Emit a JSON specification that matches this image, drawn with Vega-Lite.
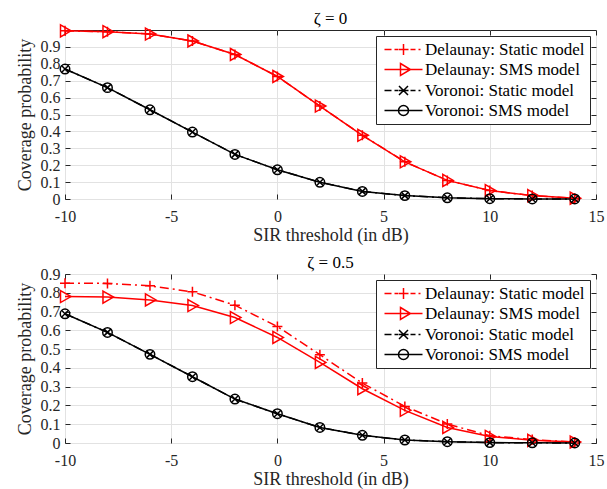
{
  "$schema": "https://vega.github.io/schema/vega-lite/v6.json",
  "padding": {"left": 15, "top": 9, "right": 5, "bottom": 0},
  "config": {
    "font": "Liberation Serif",
    "view": {"stroke": "#262626", "strokeWidth": 1},
    "axis": {
      "labelFont": "Liberation Serif",
      "labelFontSize": 16,
      "labelColor": "#262626",
      "labelOverlap": false,
      "titleFont": "Liberation Serif",
      "titleFontSize": 18,
      "titleFontWeight": "normal",
      "titleColor": "#262626",
      "titlePadding": 2,
      "gridColor": "#e2e2e2",
      "gridWidth": 1,
      "domain": false,
      "tickColor": "#262626",
      "tickSize": -5,
      "labelPadding": 10,
      "labelFlush": false
    },
    "axisX": {"labelPadding": 14},
    "axisY": {"titlePadding": 6},
    "title": {"font": "Liberation Serif", "fontSize": 17, "fontWeight": "normal", "color": "#000000", "offset": -6},
    "legend": {
      "orient": "top-right",
      "offset": 6,
      "padding": 5,
      "fillColor": "#ffffff",
      "strokeColor": "#262626",
      "labelFont": "Liberation Serif",
      "labelFontSize": 17,
      "labelColor": "#000000",
      "labelOffset": 27,
      "symbolSize": 100,
      "symbolStrokeWidth": 1.5,
      "symbolOpacity": 1,
      "rowPadding": 2
    },
    "concat": {"spacing": 8}
  },
  "datasets": {
    "curves": [
      {"panel": "z0", "series": "Delaunay: Static model", "x": -10, "y": 0.995},
      {"panel": "z0", "series": "Delaunay: Static model", "x": -8, "y": 0.99},
      {"panel": "z0", "series": "Delaunay: Static model", "x": -6, "y": 0.976},
      {"panel": "z0", "series": "Delaunay: Static model", "x": -4, "y": 0.935},
      {"panel": "z0", "series": "Delaunay: Static model", "x": -2, "y": 0.855},
      {"panel": "z0", "series": "Delaunay: Static model", "x": 0, "y": 0.725},
      {"panel": "z0", "series": "Delaunay: Static model", "x": 2, "y": 0.55},
      {"panel": "z0", "series": "Delaunay: Static model", "x": 4, "y": 0.377},
      {"panel": "z0", "series": "Delaunay: Static model", "x": 6, "y": 0.22},
      {"panel": "z0", "series": "Delaunay: Static model", "x": 8, "y": 0.11},
      {"panel": "z0", "series": "Delaunay: Static model", "x": 10, "y": 0.05},
      {"panel": "z0", "series": "Delaunay: Static model", "x": 12, "y": 0.02},
      {"panel": "z0", "series": "Delaunay: Static model", "x": 14, "y": 0.005},
      {"panel": "z0", "series": "Delaunay: SMS model", "x": -10, "y": 0.995},
      {"panel": "z0", "series": "Delaunay: SMS model", "x": -8, "y": 0.99},
      {"panel": "z0", "series": "Delaunay: SMS model", "x": -6, "y": 0.976},
      {"panel": "z0", "series": "Delaunay: SMS model", "x": -4, "y": 0.935},
      {"panel": "z0", "series": "Delaunay: SMS model", "x": -2, "y": 0.855},
      {"panel": "z0", "series": "Delaunay: SMS model", "x": 0, "y": 0.725},
      {"panel": "z0", "series": "Delaunay: SMS model", "x": 2, "y": 0.55},
      {"panel": "z0", "series": "Delaunay: SMS model", "x": 4, "y": 0.377},
      {"panel": "z0", "series": "Delaunay: SMS model", "x": 6, "y": 0.22},
      {"panel": "z0", "series": "Delaunay: SMS model", "x": 8, "y": 0.11},
      {"panel": "z0", "series": "Delaunay: SMS model", "x": 10, "y": 0.05},
      {"panel": "z0", "series": "Delaunay: SMS model", "x": 12, "y": 0.02},
      {"panel": "z0", "series": "Delaunay: SMS model", "x": 14, "y": 0.005},
      {"panel": "z0", "series": "Voronoi: Static model", "x": -10, "y": 0.769},
      {"panel": "z0", "series": "Voronoi: Static model", "x": -8, "y": 0.659},
      {"panel": "z0", "series": "Voronoi: Static model", "x": -6, "y": 0.528},
      {"panel": "z0", "series": "Voronoi: Static model", "x": -4, "y": 0.396},
      {"panel": "z0", "series": "Voronoi: Static model", "x": -2, "y": 0.264},
      {"panel": "z0", "series": "Voronoi: Static model", "x": 0, "y": 0.173},
      {"panel": "z0", "series": "Voronoi: Static model", "x": 2, "y": 0.099},
      {"panel": "z0", "series": "Voronoi: Static model", "x": 4, "y": 0.045},
      {"panel": "z0", "series": "Voronoi: Static model", "x": 6, "y": 0.02},
      {"panel": "z0", "series": "Voronoi: Static model", "x": 8, "y": 0.007},
      {"panel": "z0", "series": "Voronoi: Static model", "x": 10, "y": 0.002},
      {"panel": "z0", "series": "Voronoi: Static model", "x": 12, "y": 0.0005},
      {"panel": "z0", "series": "Voronoi: Static model", "x": 14, "y": 0.0001},
      {"panel": "z0", "series": "Voronoi: SMS model", "x": -10, "y": 0.769},
      {"panel": "z0", "series": "Voronoi: SMS model", "x": -8, "y": 0.659},
      {"panel": "z0", "series": "Voronoi: SMS model", "x": -6, "y": 0.528},
      {"panel": "z0", "series": "Voronoi: SMS model", "x": -4, "y": 0.396},
      {"panel": "z0", "series": "Voronoi: SMS model", "x": -2, "y": 0.264},
      {"panel": "z0", "series": "Voronoi: SMS model", "x": 0, "y": 0.173},
      {"panel": "z0", "series": "Voronoi: SMS model", "x": 2, "y": 0.099},
      {"panel": "z0", "series": "Voronoi: SMS model", "x": 4, "y": 0.045},
      {"panel": "z0", "series": "Voronoi: SMS model", "x": 6, "y": 0.02},
      {"panel": "z0", "series": "Voronoi: SMS model", "x": 8, "y": 0.007},
      {"panel": "z0", "series": "Voronoi: SMS model", "x": 10, "y": 0.002},
      {"panel": "z0", "series": "Voronoi: SMS model", "x": 12, "y": 0.0005},
      {"panel": "z0", "series": "Voronoi: SMS model", "x": 14, "y": 0.0001},
      {"panel": "z05", "series": "Delaunay: Static model", "x": -10, "y": 0.851},
      {"panel": "z05", "series": "Delaunay: Static model", "x": -8, "y": 0.85},
      {"panel": "z05", "series": "Delaunay: Static model", "x": -6, "y": 0.837},
      {"panel": "z05", "series": "Delaunay: Static model", "x": -4, "y": 0.805},
      {"panel": "z05", "series": "Delaunay: Static model", "x": -2, "y": 0.734},
      {"panel": "z05", "series": "Delaunay: Static model", "x": 0, "y": 0.62},
      {"panel": "z05", "series": "Delaunay: Static model", "x": 2, "y": 0.47},
      {"panel": "z05", "series": "Delaunay: Static model", "x": 4, "y": 0.319},
      {"panel": "z05", "series": "Delaunay: Static model", "x": 6, "y": 0.195},
      {"panel": "z05", "series": "Delaunay: Static model", "x": 8, "y": 0.101},
      {"panel": "z05", "series": "Delaunay: Static model", "x": 10, "y": 0.039},
      {"panel": "z05", "series": "Delaunay: Static model", "x": 12, "y": 0.018},
      {"panel": "z05", "series": "Delaunay: Static model", "x": 14, "y": 0.005},
      {"panel": "z05", "series": "Delaunay: SMS model", "x": -10, "y": 0.78},
      {"panel": "z05", "series": "Delaunay: SMS model", "x": -8, "y": 0.777},
      {"panel": "z05", "series": "Delaunay: SMS model", "x": -6, "y": 0.762},
      {"panel": "z05", "series": "Delaunay: SMS model", "x": -4, "y": 0.732},
      {"panel": "z05", "series": "Delaunay: SMS model", "x": -2, "y": 0.668},
      {"panel": "z05", "series": "Delaunay: SMS model", "x": 0, "y": 0.562},
      {"panel": "z05", "series": "Delaunay: SMS model", "x": 2, "y": 0.429},
      {"panel": "z05", "series": "Delaunay: SMS model", "x": 4, "y": 0.289},
      {"panel": "z05", "series": "Delaunay: SMS model", "x": 6, "y": 0.174},
      {"panel": "z05", "series": "Delaunay: SMS model", "x": 8, "y": 0.083},
      {"panel": "z05", "series": "Delaunay: SMS model", "x": 10, "y": 0.035},
      {"panel": "z05", "series": "Delaunay: SMS model", "x": 12, "y": 0.014},
      {"panel": "z05", "series": "Delaunay: SMS model", "x": 14, "y": 0.005},
      {"panel": "z05", "series": "Voronoi: Static model", "x": -10, "y": 0.688},
      {"panel": "z05", "series": "Voronoi: Static model", "x": -8, "y": 0.589},
      {"panel": "z05", "series": "Voronoi: Static model", "x": -6, "y": 0.472},
      {"panel": "z05", "series": "Voronoi: Static model", "x": -4, "y": 0.353},
      {"panel": "z05", "series": "Voronoi: Static model", "x": -2, "y": 0.234},
      {"panel": "z05", "series": "Voronoi: Static model", "x": 0, "y": 0.156},
      {"panel": "z05", "series": "Voronoi: Static model", "x": 2, "y": 0.083},
      {"panel": "z05", "series": "Voronoi: Static model", "x": 4, "y": 0.041},
      {"panel": "z05", "series": "Voronoi: Static model", "x": 6, "y": 0.016},
      {"panel": "z05", "series": "Voronoi: Static model", "x": 8, "y": 0.007},
      {"panel": "z05", "series": "Voronoi: Static model", "x": 10, "y": 0.002},
      {"panel": "z05", "series": "Voronoi: Static model", "x": 12, "y": 0.001},
      {"panel": "z05", "series": "Voronoi: Static model", "x": 14, "y": 0.0002},
      {"panel": "z05", "series": "Voronoi: SMS model", "x": -10, "y": 0.688},
      {"panel": "z05", "series": "Voronoi: SMS model", "x": -8, "y": 0.589},
      {"panel": "z05", "series": "Voronoi: SMS model", "x": -6, "y": 0.472},
      {"panel": "z05", "series": "Voronoi: SMS model", "x": -4, "y": 0.353},
      {"panel": "z05", "series": "Voronoi: SMS model", "x": -2, "y": 0.234},
      {"panel": "z05", "series": "Voronoi: SMS model", "x": 0, "y": 0.156},
      {"panel": "z05", "series": "Voronoi: SMS model", "x": 2, "y": 0.083},
      {"panel": "z05", "series": "Voronoi: SMS model", "x": 4, "y": 0.041},
      {"panel": "z05", "series": "Voronoi: SMS model", "x": 6, "y": 0.016},
      {"panel": "z05", "series": "Voronoi: SMS model", "x": 8, "y": 0.007},
      {"panel": "z05", "series": "Voronoi: SMS model", "x": 10, "y": 0.002},
      {"panel": "z05", "series": "Voronoi: SMS model", "x": 12, "y": 0.001},
      {"panel": "z05", "series": "Voronoi: SMS model", "x": 14, "y": 0.0002}
    ]
  },
  "vconcat": [
    {
      "title": "ζ = 0",
      "width": 531,
      "height": 169,
      "data": {"name": "curves"},
      "transform": [{"filter": "datum.panel === 'z0'"}],
      "encoding": {
        "x": {
          "field": "x", "type": "quantitative",
          "scale": {"domain": [-10, 15], "nice": false},
          "axis": {"values": [-10, -5, 0, 5, 10, 15], "title": "SIR threshold (in dB)", "labelExpr": "datum.value < 0 ? '-' + format(-datum.value, 'd') : datum.label"}
        },
        "y": {
          "field": "y", "type": "quantitative",
          "scale": {"domain": [0, 1], "nice": false},
          "axis": {"values": [0, 0.1, 0.2, 0.3, 0.4, 0.5, 0.6, 0.7, 0.8, 0.9], "format": "~g", "title": "Coverage probability"}
        }
      },
      "layer": [
        {
          "layer": [
            {
              "transform": [{"filter": "datum.series === 'Delaunay: Static model'"}],
              "mark": {"type": "line", "color": "#ff0000", "strokeWidth": 1.5, "strokeDash": [9, 4, 2, 4]}
            },
            {
              "transform": [{"filter": "datum.series === 'Delaunay: SMS model'"}],
              "mark": {"type": "line", "color": "#ff0000", "strokeWidth": 1.5}
            },
            {
              "transform": [{"filter": "datum.series === 'Voronoi: Static model'"}],
              "mark": {"type": "line", "color": "#000000", "strokeWidth": 1.5, "strokeDash": [9, 4, 2, 4]}
            },
            {
              "transform": [{"filter": "datum.series === 'Voronoi: SMS model'"}],
              "mark": {"type": "line", "color": "#000000", "strokeWidth": 1.5}
            },
            {
              "transform": [{"filter": "datum.series === 'Delaunay: Static model'"}],
              "mark": {"type": "point", "shape": "M-1,0H1M0,-1V1", "size": 100, "filled": false, "color": "#ff0000", "strokeWidth": 1.5, "opacity": 1}
            },
            {
              "transform": [{"filter": "datum.series === 'Delaunay: SMS model'"}],
              "mark": {"type": "point", "shape": "M-0.75,-1L1,0L-0.75,1Z", "size": 144, "filled": false, "color": "#ff0000", "strokeWidth": 1.5, "opacity": 1}
            },
            {
              "transform": [{"filter": "datum.series === 'Voronoi: Static model'"}],
              "mark": {"type": "point", "shape": "M-0.7,-0.7L0.7,0.7M-0.7,0.7L0.7,-0.7", "size": 100, "filled": false, "color": "#000000", "strokeWidth": 1.5, "opacity": 1}
            },
            {
              "transform": [{"filter": "datum.series === 'Voronoi: SMS model'"}],
              "mark": {"type": "point", "shape": "circle", "size": 90, "filled": false, "color": "#000000", "strokeWidth": 1.5, "opacity": 1}
            }
          ]
        },
        {
          "mark": {"type": "point", "filled": false, "size": 0, "opacity": 1, "strokeWidth": 1.5},
          "encoding": {
            "x": {"field": "x", "type": "quantitative", "scale": {"domain": [-10, 15], "nice": false}, "axis": {"orient": "top", "values": [-10, -5, 0, 5, 10, 15], "labels": false, "title": null, "grid": false}},
            "y": {"field": "y", "type": "quantitative", "scale": {"domain": [0, 1], "nice": false}, "axis": {"orient": "right", "values": [0, 0.1, 0.2, 0.3, 0.4, 0.5, 0.6, 0.7, 0.8, 0.9], "labels": false, "title": null, "grid": false}},
            "color": {"field": "series", "type": "nominal", "scale": {"domain": ["Delaunay: Static model", "Delaunay: SMS model", "Voronoi: Static model", "Voronoi: SMS model"], "range": ["#ff0000", "#ff0000", "#000000", "#000000"]}, "legend": {"title": null}},
            "shape": {"field": "series", "type": "nominal", "scale": {"domain": ["Delaunay: Static model", "Delaunay: SMS model", "Voronoi: Static model", "Voronoi: SMS model"], "range": [
              "M-1,0H0.4M1,0H1.7M1.8,0H3.8M2.8,-1.1V1.1M4.2,0H5.2M5.8,0H6.2",
              "M-1,0H6.6M2.2,-1.2L4.2,0L2.2,1.2Z",
              "M-1,0H0.4M1,0H1.7M1.8,0H3.8M1.9,-0.9L3.7,0.9M1.9,0.9L3.7,-0.9M4.2,0H5.2M5.8,0H6.2",
              "M-1,0H6.6M1.8,0A1,1 0 1,1 3.8,0A1,1 0 1,1 1.8,0Z"
            ]}, "legend": {"title": null}}
          }
        }
      ],
      "resolve": {"axis": {"x": "independent", "y": "independent"}}
    },
    {
      "title": "ζ = 0.5",
      "width": 531,
      "height": 169,
      "data": {"name": "curves"},
      "transform": [{"filter": "datum.panel === 'z05'"}],
      "encoding": {
        "x": {
          "field": "x", "type": "quantitative",
          "scale": {"domain": [-10, 15], "nice": false},
          "axis": {"values": [-10, -5, 0, 5, 10, 15], "title": "SIR threshold (in dB)", "labelExpr": "datum.value < 0 ? '-' + format(-datum.value, 'd') : datum.label"}
        },
        "y": {
          "field": "y", "type": "quantitative",
          "scale": {"domain": [0, 0.9], "nice": false},
          "axis": {"values": [0, 0.1, 0.2, 0.3, 0.4, 0.5, 0.6, 0.7, 0.8, 0.9], "format": "~g", "title": "Coverage probability"}
        }
      },
      "layer": [
        {
          "layer": [
            {
              "transform": [{"filter": "datum.series === 'Delaunay: Static model'"}],
              "mark": {"type": "line", "color": "#ff0000", "strokeWidth": 1.5, "strokeDash": [9, 4, 2, 4]}
            },
            {
              "transform": [{"filter": "datum.series === 'Delaunay: SMS model'"}],
              "mark": {"type": "line", "color": "#ff0000", "strokeWidth": 1.5}
            },
            {
              "transform": [{"filter": "datum.series === 'Voronoi: Static model'"}],
              "mark": {"type": "line", "color": "#000000", "strokeWidth": 1.5, "strokeDash": [9, 4, 2, 4]}
            },
            {
              "transform": [{"filter": "datum.series === 'Voronoi: SMS model'"}],
              "mark": {"type": "line", "color": "#000000", "strokeWidth": 1.5}
            },
            {
              "transform": [{"filter": "datum.series === 'Delaunay: Static model'"}],
              "mark": {"type": "point", "shape": "M-1,0H1M0,-1V1", "size": 100, "filled": false, "color": "#ff0000", "strokeWidth": 1.5, "opacity": 1}
            },
            {
              "transform": [{"filter": "datum.series === 'Delaunay: SMS model'"}],
              "mark": {"type": "point", "shape": "M-0.75,-1L1,0L-0.75,1Z", "size": 144, "filled": false, "color": "#ff0000", "strokeWidth": 1.5, "opacity": 1}
            },
            {
              "transform": [{"filter": "datum.series === 'Voronoi: Static model'"}],
              "mark": {"type": "point", "shape": "M-0.7,-0.7L0.7,0.7M-0.7,0.7L0.7,-0.7", "size": 100, "filled": false, "color": "#000000", "strokeWidth": 1.5, "opacity": 1}
            },
            {
              "transform": [{"filter": "datum.series === 'Voronoi: SMS model'"}],
              "mark": {"type": "point", "shape": "circle", "size": 90, "filled": false, "color": "#000000", "strokeWidth": 1.5, "opacity": 1}
            }
          ]
        },
        {
          "mark": {"type": "point", "filled": false, "size": 0, "opacity": 1, "strokeWidth": 1.5},
          "encoding": {
            "x": {"field": "x", "type": "quantitative", "scale": {"domain": [-10, 15], "nice": false}, "axis": {"orient": "top", "values": [-10, -5, 0, 5, 10, 15], "labels": false, "title": null, "grid": false}},
            "y": {"field": "y", "type": "quantitative", "scale": {"domain": [0, 0.9], "nice": false}, "axis": {"orient": "right", "values": [0, 0.1, 0.2, 0.3, 0.4, 0.5, 0.6, 0.7, 0.8, 0.9], "labels": false, "title": null, "grid": false}},
            "color": {"field": "series", "type": "nominal", "scale": {"domain": ["Delaunay: Static model", "Delaunay: SMS model", "Voronoi: Static model", "Voronoi: SMS model"], "range": ["#ff0000", "#ff0000", "#000000", "#000000"]}, "legend": {"title": null}},
            "shape": {"field": "series", "type": "nominal", "scale": {"domain": ["Delaunay: Static model", "Delaunay: SMS model", "Voronoi: Static model", "Voronoi: SMS model"], "range": [
              "M-1,0H0.4M1,0H1.7M1.8,0H3.8M2.8,-1.1V1.1M4.2,0H5.2M5.8,0H6.2",
              "M-1,0H6.6M2.2,-1.2L4.2,0L2.2,1.2Z",
              "M-1,0H0.4M1,0H1.7M1.8,0H3.8M1.9,-0.9L3.7,0.9M1.9,0.9L3.7,-0.9M4.2,0H5.2M5.8,0H6.2",
              "M-1,0H6.6M1.8,0A1,1 0 1,1 3.8,0A1,1 0 1,1 1.8,0Z"
            ]}, "legend": {"title": null}}
          }
        }
      ],
      "resolve": {"axis": {"x": "independent", "y": "independent"}}
    }
  ],
  "resolve": {"scale": {"color": "independent", "shape": "independent"}, "legend": {"color": "independent", "shape": "independent"}}
}
